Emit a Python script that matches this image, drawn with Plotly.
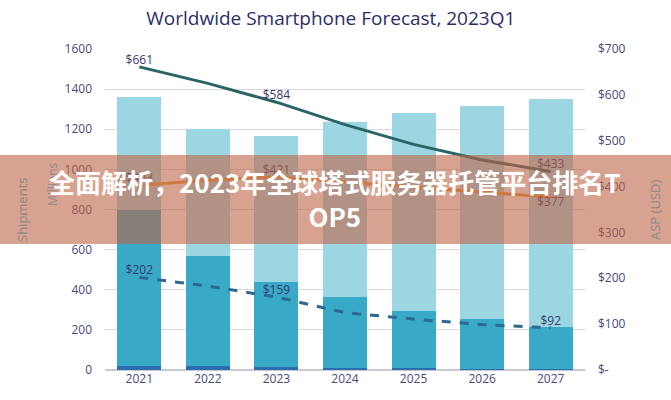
import plotly.graph_objects as go

years = ["2021", "2022", "2023", "2024", "2025", "2026", "2027"]
ship_bottom = [20, 20, 15, 10, 8, 7, 7]
ship_middle = [780, 546, 426, 353, 288, 246, 208]
ship_top = [560, 634, 724, 872, 986, 1064, 1137]

asp_total = [661, 625, 584, 535, 492, 458, 433]
asp_total_lbl = ["$661", "", "$584", "", "", "", "$433"]
asp_mid = [403, 414, 421, 410, 398, 387, 377]
asp_mid_lbl = ["$403", "", "$421", "", "", "", "$377"]
asp_low = [202, 183, 159, 125, 111, 99, 92]
asp_low_lbl = ["$202", "", "$159", "", "", "", "$92"]

right_ticks = [0, 100, 200, 300, 400, 500, 600, 700]
right_ticktext = ["$-", "$100", "$200", "$300", "$400", "$500", "$600", "$700"]

title_text = "Worldwide Smartphone Forecast, 2023Q1"
banner_text = "全面解析，2023年全球塔式服务器托管平台排名T<br>OP5"

tick_color = "#4a4a78"
label_color = "#3a3a6a"

fig = go.Figure()
fig.add_bar(x=years, y=ship_bottom, marker_color="#2c6db0", marker_line_width=0, yaxis="y")
fig.add_bar(x=years, y=ship_middle, marker_color="#38a9c6", marker_line_width=0, yaxis="y")
fig.add_bar(x=years, y=ship_top, marker_color="#9dd6e3", marker_line_width=0, yaxis="y")

fig.add_scatter(x=years, y=asp_total, yaxis="y2", mode="lines+text",
                line=dict(color="#2b6465", width=3),
                text=asp_total_lbl, textposition="top center",
                textfont=dict(color=label_color, size=12))
fig.add_scatter(x=years, y=asp_mid, yaxis="y2", mode="lines+text",
                line=dict(color="#e69a42", width=3),
                text=asp_mid_lbl,
                textposition=["top center", "top center", "top center", "top center",
                              "top center", "top center", "bottom center"],
                textfont=dict(color=label_color, size=12))
fig.add_scatter(x=years, y=asp_low, yaxis="y2", mode="lines+text",
                line=dict(color="#2e6890", width=3, dash="dash"),
                text=asp_low_lbl, textposition="top center",
                textfont=dict(color=label_color, size=12))

W, H = 671, 400
L, R, T, B = 105, 86, 49, 30
pw = W - L - R
ph = H - T - B

fig.update_layout(
    width=W, height=H,
    margin=dict(l=L, r=R, t=T, b=B),
    barmode="stack", bargap=0.36,
    showlegend=False,
    plot_bgcolor="white", paper_bgcolor="white",
    font=dict(family="Open Sans, Noto Sans, sans-serif", color=tick_color, size=12),
    title=dict(text=title_text, x=0.493, xanchor="center", y=1 - 18 / H, yanchor="middle",
               yref="container", font=dict(size=19, color="#2e2d6b")),
    xaxis=dict(showgrid=False, showline=False, ticks="", tickfont=dict(size=12, color=tick_color)),
    yaxis=dict(range=[0, 1600], dtick=200, showgrid=True, gridcolor="#d8d8e4", gridwidth=1,
               zeroline=True, zerolinecolor="#c8c8d6", ticks="", ticklabelstandoff=12,
               tickfont=dict(size=12, color=tick_color)),
    yaxis2=dict(range=[0, 700], overlaying="y", side="right", tickvals=right_ticks,
                ticktext=right_ticktext, showgrid=False, zeroline=False, ticks="",
                ticklabelstandoff=12, tickfont=dict(size=12, color=tick_color)),
)

fig.add_annotation(text="Shipments", xref="paper", yref="paper", x=0, y=(370 - 210) / ph,
                   xanchor="center", yanchor="middle",
                   xshift=-(L - 22), textangle=-90, showarrow=False,
                   font=dict(size=13, color="#8a8a8a"))
fig.add_annotation(text="Millions", xref="paper", yref="paper", x=0, y=(370 - 185) / ph,
                   xanchor="center", yanchor="middle",
                   xshift=-(L - 52), textangle=-90, showarrow=False,
                   font=dict(size=12, color="#8a8a8a"))
fig.add_annotation(text="ASP (USD)", xref="paper", yref="paper", x=1, y=(370 - 210) / ph,
                   xanchor="center", yanchor="middle",
                   xshift=(655 - (W - R)), textangle=-90, showarrow=False,
                   font=dict(size=13, color="#8a8a8a"))

# banner overlay
fig.add_shape(type="rect", xref="paper", yref="paper",
              x0=-L / pw, x1=(W - L) / pw,
              y0=(370 - 244) / ph, y1=(370 - 155) / ph,
              fillcolor="rgba(190,100,70,0.6)", line_width=0, layer="above")
fig.add_annotation(text=banner_text, xref="paper", yref="paper",
                   x=(335 - L) / pw, y=(370 - 198) / ph, xanchor="center", yanchor="middle",
                   showarrow=False,
                   font=dict(family="Noto Sans CJK SC", size=26, color="white", weight="bold"),
                   align="center")

fig.write_html("out.html", config={"displayModeBar": False},
               post_script="document.body.style.margin='0';")
